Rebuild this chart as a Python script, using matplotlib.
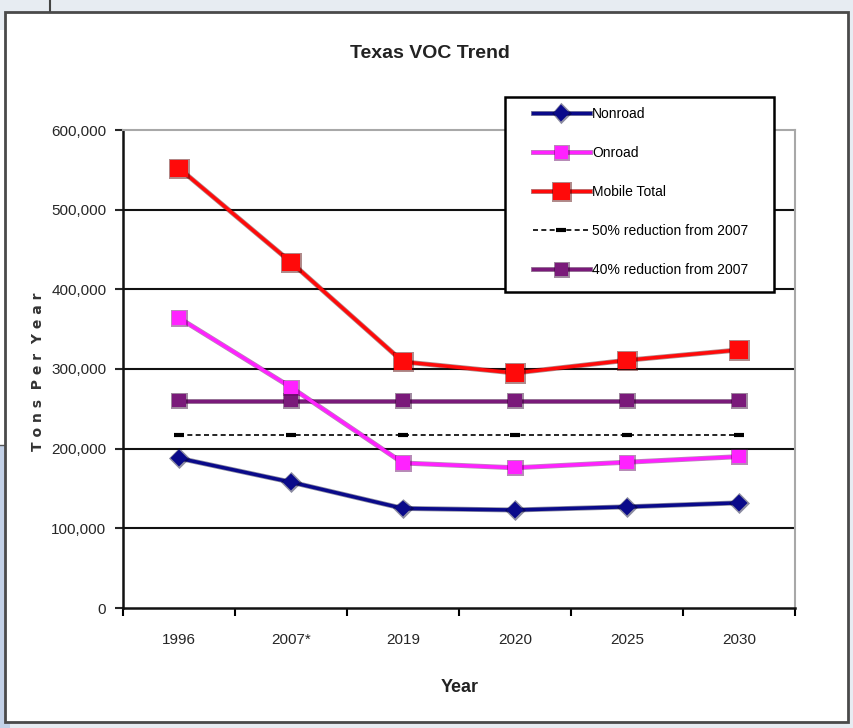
import matplotlib.pyplot as plt
import matplotlib.patheffects as pe
from matplotlib.patches import Rectangle
from matplotlib.lines import Line2D
from matplotlib.ticker import FuncFormatter, FixedLocator

years = ['1996', '2007*', '2019', '2020', '2025', '2030']
nonroad = [188000, 158000, 125000, 123000, 127000, 132000]
onroad = [364000, 277000, 182000, 176000, 183000, 190000]
mobile_total = [552000, 434000, 309000, 295000, 311000, 324000]
cut_50 = [217000] * 6
cut_40 = [260000] * 6

plt.rcParams['font.family'] = ['Liberation Sans', 'DejaVu Sans']

fig = plt.figure(figsize=(8.54, 7.28), dpi=100)
fig.patch.set_facecolor('#e7ecf2')

# page bits around the chart frame
fig.add_artist(Rectangle((0, 0), 0.012, 1 - 445 / 728, transform=fig.transFigure,
                         facecolor='#c3d1e7', edgecolor='none', zorder=-3))
fig.add_artist(Rectangle((0, 1 - 445 / 728), 0.008, 445 / 728 - 30 / 728, transform=fig.transFigure,
                         facecolor='white', edgecolor='none', zorder=-3))
fig.add_artist(Line2D([0, 6 / 854], [1 - 445 / 728] * 2, transform=fig.transFigure,
                      color='#555555', lw=1, zorder=-2))
fig.add_artist(Line2D([50 / 854, 50 / 854], [1, 1 - 12 / 728], transform=fig.transFigure,
                      color='#444444', lw=1.5, zorder=-2))
fig.add_artist(Rectangle((5 / 854, 1 - 722 / 728), 843 / 854, 710 / 728, transform=fig.transFigure,
                         facecolor='white', edgecolor='#4a4a4a', lw=2, zorder=-1))

ax = fig.add_axes([123 / 854, 1 - 608 / 728, 672 / 854, 478 / 728])
ax.set_zorder(2)
ax.set_facecolor('white')
x = list(range(len(years)))

def edge(c):
    return [pe.Stroke(linewidth=3.6, foreground=c, alpha=0.45), pe.Normal()]

ax.plot(x, nonroad, color='#0a0a8a', lw=2.5, marker='D', ms=7, mec='#0a0a8a', mew=1.5,
        label='Nonroad', path_effects=edge('#000030'), zorder=5)
ax.plot(x, onroad, color='#ff22ff', lw=2.5, marker='s', ms=8, mec='#ff22ff', mew=1.5,
        label='Onroad', path_effects=edge('#600060'), zorder=5)
ax.plot(x, mobile_total, color='#ff0a0a', lw=2.5, marker='s', ms=11, mec='#ff0a0a', mew=1.5,
        label='Mobile Total', path_effects=edge('#500000'), zorder=5)
ax.plot(x, cut_50, color='black', lw=1.2, ls=(0, (3, 2)), marker='_', ms=7, mew=3,
        label='50% reduction from 2007', zorder=4)
ax.plot(x, cut_40, color='#7a1a7a', lw=2.5, marker='s', ms=8, mec='#7a1a7a', mew=1.5,
        label='40% reduction from 2007', path_effects=edge('#300030'), zorder=4)

ax.set_xlim(-0.5, 5.5)
ax.set_ylim(0, 600000)
ax.set_yticks(range(0, 600001, 100000))
ax.yaxis.set_major_formatter(FuncFormatter(lambda v, p: f'{int(v):,}'))
ax.set_xticks(x)
ax.set_xticklabels(years)
ax.xaxis.set_minor_locator(FixedLocator([i - 0.5 for i in range(7)]))
ax.tick_params(axis='x', which='major', length=0, pad=18, labelsize=11, colors='#262626')
ax.tick_params(axis='x', which='minor', length=6, width=1.5, direction='out')
ax.tick_params(axis='y', length=6, width=1.5, direction='out', pad=6, labelsize=11, colors='#262626')

for y in range(100000, 600000, 100000):
    ax.axhline(y, color='#111111', lw=1.5, zorder=1)
for s in ['left', 'bottom']:
    ax.spines[s].set_color('#111111')
    ax.spines[s].set_linewidth(1.8)
for s in ['top', 'right']:
    ax.spines[s].set_color('#a8a8a8')
    ax.spines[s].set_linewidth(1.5)

fig.text(430 / 854, 1 - 53 / 728, 'Texas VOC Trend', ha='center', va='center',
         fontsize=14, fontweight='bold', color='#222222')
fig.text(460 / 854, 1 - 687 / 728, 'Year', ha='center', va='center',
         fontsize=13, fontweight='bold', color='#222222')
fig.text(38 / 854, 1 - 372 / 728, 'T o n s  P e r  Y e a r', ha='center', va='center',
         rotation=90, fontsize=10, fontweight='bold', color='#333333', family='DejaVu Sans')

# legend box drawn separately so the entries can sit inset from its left edge
ax.add_patch(Rectangle((382 / 672, 316 / 478), 269 / 672, 195 / 478, transform=ax.transAxes,
                       facecolor='white', edgecolor='black', lw=1.8, clip_on=False, zorder=9))
leg = ax.legend(loc='upper left', bbox_to_anchor=(410 / 672, 1 + 23 / 478),
                fontsize=10, frameon=False, labelspacing=1.8,
                handlelength=4.1, handletextpad=0.15, borderpad=0, borderaxespad=0)
leg.set_zorder(10)

fig.savefig('out.png', dpi=100)
